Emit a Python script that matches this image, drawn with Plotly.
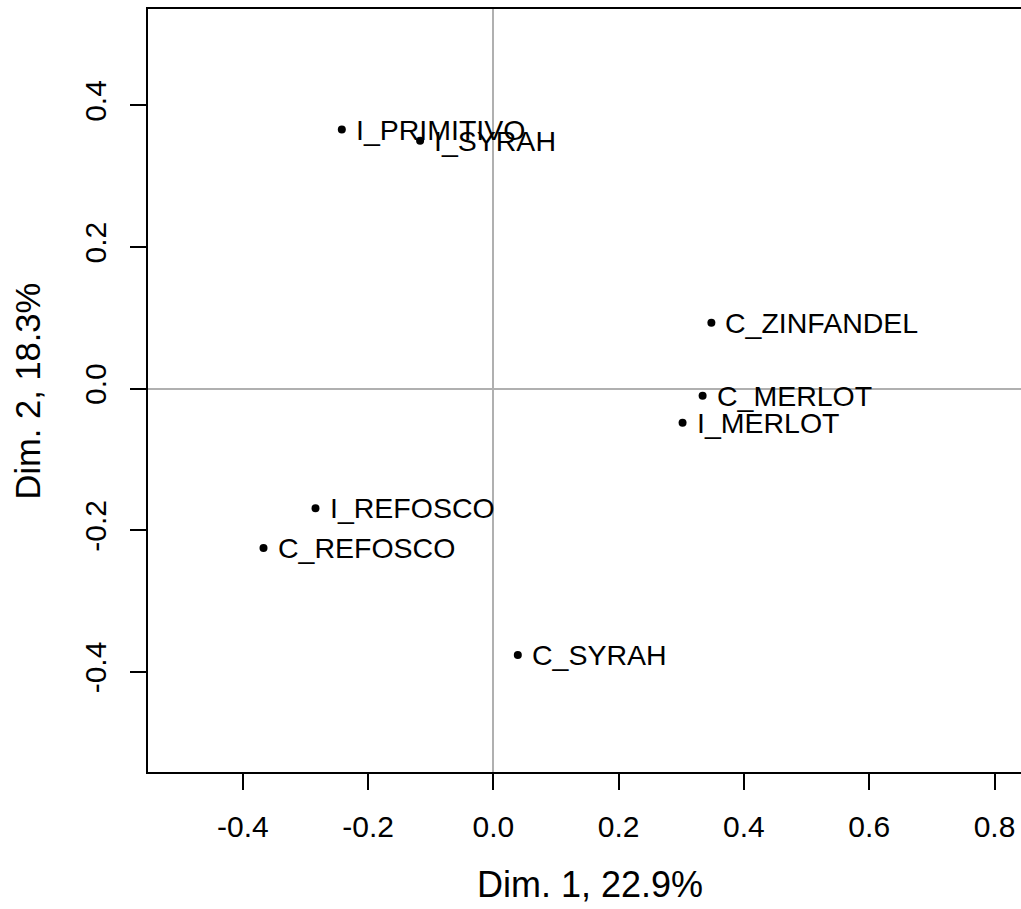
import plotly.graph_objects as go

# Individual factor map coordinates (first two dimensions)
labels = ["I_PRIMITIVO", "I_SYRAH", "C_ZINFANDEL", "C_MERLOT",
          "I_MERLOT", "I_REFOSCO", "C_REFOSCO", "C_SYRAH"]
dim1 = [-0.242, -0.117, 0.348, 0.334, 0.302, -0.284, -0.367, 0.039]
dim2 = [0.366, 0.350, 0.093, -0.010, -0.048, -0.169, -0.225, -0.376]

x_ticks = [-0.4, -0.2, 0.0, 0.2, 0.4, 0.6, 0.8]
y_ticks = [-0.4, -0.2, 0.0, 0.2, 0.4]
x_title = "Dim. 1, 22.9%"
y_title = "Dim. 2, 18.3%"

FONT = "Liberation Sans, Arial, sans-serif"

fig = go.Figure()
fig.add_trace(go.Scatter(
    x=dim1, y=dim2, mode="markers",
    marker=dict(color="black", size=8),
    hoverinfo="skip", showlegend=False,
))

annotations = []
for lab, x, y in zip(labels, dim1, dim2):
    annotations.append(dict(
        x=x, y=y, xref="x", yref="y", text=lab, showarrow=False,
        xanchor="left", yanchor="middle", xshift=12,
        font=dict(size=28.5, color="black", family=FONT),
    ))

# Axis titles
annotations.append(dict(
    x=0.5063, y=-0.147, xref="paper", yref="paper", text=x_title,
    showarrow=False, xanchor="center", yanchor="middle",
    font=dict(size=36, color="black", family=FONT),
))
annotations.append(dict(
    x=-0.1375, y=0.5, xref="paper", yref="paper", text=y_title,
    showarrow=False, xanchor="center", yanchor="middle", textangle=-90,
    font=dict(size=34.5, color="black", family=FONT),
))

axis_common = dict(
    ticks="outside", ticklen=16, tickwidth=1.8, tickcolor="black",
    showline=True, linecolor="black", linewidth=1.8,
    showgrid=False, zeroline=True, zerolinecolor="#b0b0b0", zerolinewidth=1.5,
    tickfont=dict(size=30, color="black", family=FONT),
)

fig.update_layout(
    width=1021, height=909,
    margin=dict(l=148, r=0, t=9, b=137),
    plot_bgcolor="white", paper_bgcolor="white",
    showlegend=False,
    annotations=annotations,
    xaxis=dict(
        range=[-0.5514, 0.8423],
        tickvals=x_ticks, ticktext=[f"{v:.1f}" for v in x_ticks],
        mirror=True, ticklabelstandoff=11, **axis_common,
    ),
    yaxis=dict(
        range=[-0.5413, 0.5362],
        tickvals=y_ticks, ticktext=[f"{v:.1f}" for v in y_ticks],
        tickangle=-90, ticklabelstandoff=12, **axis_common,
    ),
)

fig.write_html("out.html")
